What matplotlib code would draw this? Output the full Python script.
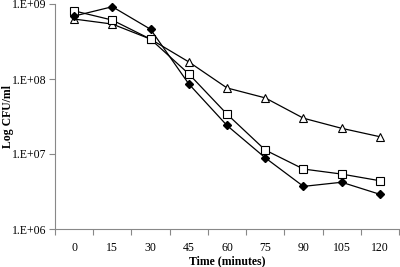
import matplotlib
matplotlib.use("Agg")
import matplotlib.pyplot as plt
import numpy as np

plt.rcParams['font.family'] = ['Liberation Serif', 'DejaVu Serif']

times = [0, 15, 30, 45, 60, 75, 90, 105, 120]
diamond = [6.9e8, 9.2e8, 4.6e8, 8.6e7, 2.4e7, 8.9e6, 3.7e6, 4.2e6, 2.9e6]
square = [8.1e8, 6.1e8, 3.4e8, 1.17e8, 3.4e7, 1.13e7, 6.3e6, 5.4e6, 4.4e6]
triangle = [6.3e8, 5.4e8, 3.4e8, 1.69e8, 7.6e7, 5.6e7, 3.0e7, 2.2e7, 1.7e7]
ytick_vals = [1e6, 1e7, 1e8, 1e9]
ytick_labels = ['1.E+06', '1.E+07', '1.E+08', '1.E+09']

fig = plt.figure(figsize=(4, 2.67), dpi=100)
ax = fig.add_axes([55/400, (267-229)/267, 344/400, 225/267])

ax.plot(times, triangle, color='black', lw=0.9, marker='^', ms=5.5,
        mfc='white', mec='black', mew=0.8, zorder=3, clip_on=False)
ax.plot(times, square, color='black', lw=0.9, marker='s', ms=5.2,
        mfc='white', mec='black', mew=0.8, zorder=3, clip_on=False)
ax.plot(times, diamond, color='black', lw=0.9, marker='D', ms=4.2,
        mfc='black', mec='black', zorder=3, clip_on=False)

ax.set_yscale('log')
ax.set_ylim(1e6, 1e9)
ax.set_yticks(ytick_vals)
ax.set_yticklabels(ytick_labels)
ax.yaxis.set_minor_locator(matplotlib.ticker.NullLocator())
ax.set_xlim(-7.5, 127.5)
ax.set_xticks(times)
ax.set_xticklabels([str(t) for t in times])
ax.set_xticks(np.arange(-7.5, 128, 15), minor=True)
ax.tick_params(axis='x', which='major', length=0, pad=9.5, labelsize=8.5)
ax.tick_params(axis='x', which='minor', length=4, color='#888888', width=0.8)
ax.tick_params(axis='y', which='major', length=4, color='#888888', width=0.8, labelsize=8.5, pad=2)

for s in ['top', 'right']:
    ax.spines[s].set_visible(False)
for s in ['left', 'bottom']:
    ax.spines[s].set_color('#888888')
    ax.spines[s].set_linewidth(0.8)

ax.set_xlabel('Time (minutes)', fontweight='bold', fontsize=8.5)
ax.set_ylabel('Log CFU/ml', fontweight='bold', fontsize=8.5)
ax.xaxis.set_label_coords(0.5, -0.145)
ax.xaxis.label.set_va('center')
ax.yaxis.set_label_coords(-0.136, 0.5)
ax.yaxis.label.set_va('center')

fig.savefig('out.png', dpi=100)
